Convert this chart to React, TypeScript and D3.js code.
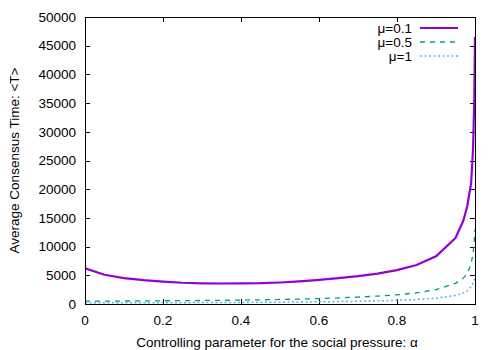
import React, { useRef, useEffect } from "react";
import * as d3 from "d3";

// alpha samples (social pressure parameter)
const alphas = [
  0, 0.05, 0.1, 0.15, 0.2, 0.25, 0.3, 0.35, 0.4, 0.45, 0.5, 0.55, 0.6, 0.65,
  0.7, 0.75, 0.8, 0.85, 0.9, 0.95, 0.97, 0.98, 0.99, 0.995, 0.998, 1,
];

// average consensus time <T> for each mu
const mu01 = [
  6200, 5100, 4500, 4150, 3900, 3700, 3600, 3570, 3580, 3620, 3750, 3950, 4200,
  4500, 4850, 5300, 5900, 6800, 8300, 11500, 14500, 17000, 21000, 27000, 35000,
  46500,
];
const mu05 = [
  500, 510, 520, 540, 560, 580, 610, 640, 680, 730, 790, 860, 950, 1050, 1200,
  1380, 1600, 1950, 2500, 3600, 4500, 5300, 7000, 8800, 10800, 13000,
];
const mu1 = [
  200, 205, 210, 215, 225, 235, 245, 260, 275, 295, 320, 345, 380, 420, 470,
  540, 640, 780, 1000, 1500, 1900, 2300, 3000, 3600, 4100, 4800,
];

const seriesLabels = ["\u03bc=0.1", "\u03bc=0.5", "\u03bc=1"];
const xTicks = [0, 0.2, 0.4, 0.6, 0.8, 1];
const yTicks = [0, 5000, 10000, 15000, 20000, 25000, 30000, 35000, 40000, 45000, 50000];

const App = () => {
  const ref = useRef<SVGSVGElement>(null);

  useEffect(() => {
    const width = 500;
    const height = 350;
    const left = 85;
    const right = 475;
    const top = 17;
    const bottom = 304;
    const font = "'Liberation Sans', Arial, sans-serif";
    const fontSize = 13.5;

    const svg = d3.select(ref.current);
    svg.selectAll("*").remove();
    svg.attr("width", width).attr("height", height);

    const x = d3.scaleLinear().domain([0, 1]).range([left, right]);
    const y = d3.scaleLinear().domain([0, 50000]).range([bottom, top]);

    svg
      .append("defs")
      .append("clipPath")
      .attr("id", "plot-clip")
      .append("rect")
      .attr("x", left)
      .attr("y", top)
      .attr("width", right - left)
      .attr("height", bottom - top);

    // ticks, inward and mirrored like gnuplot
    const tickLen = 5;
    const ticks = svg.append("g").attr("stroke", "#000").attr("stroke-width", 1);
    yTicks.forEach((t) => {
      const yy = Math.round(y(t)) + 0.5;
      ticks.append("line").attr("x1", left).attr("x2", left + tickLen).attr("y1", yy).attr("y2", yy);
      ticks.append("line").attr("x1", right).attr("x2", right - tickLen).attr("y1", yy).attr("y2", yy);
    });
    xTicks.forEach((t) => {
      const xx = Math.round(x(t)) + 0.5;
      ticks.append("line").attr("x1", xx).attr("x2", xx).attr("y1", bottom).attr("y2", bottom - tickLen);
      ticks.append("line").attr("x1", xx).attr("x2", xx).attr("y1", top).attr("y2", top + tickLen);
    });

    // tick labels
    svg
      .append("g")
      .selectAll("text")
      .data(yTicks)
      .join("text")
      .attr("x", left - 9)
      .attr("y", (d) => y(d))
      .attr("dy", "0.35em")
      .attr("text-anchor", "end")
      .style("font-family", font)
      .style("font-size", fontSize + "px")
      .text((d) => d);

    svg
      .append("g")
      .selectAll("text")
      .data(xTicks)
      .join("text")
      .attr("x", (d) => x(d))
      .attr("y", bottom + 16)
      .attr("dy", "0.35em")
      .attr("text-anchor", "middle")
      .style("font-family", font)
      .style("font-size", fontSize + "px")
      .text((d) => d);

    // axis titles
    svg
      .append("text")
      .attr("x", (left + right) / 2 - 3)
      .attr("y", 342)
      .attr("dy", "0.35em")
      .attr("text-anchor", "middle")
      .style("font-family", font)
      .style("font-size", fontSize + "px")
      .text("Controlling parameter for the social pressure:  \u03b1");

    svg
      .append("text")
      .attr("transform", `translate(14, ${(top + bottom) / 2}) rotate(-90)`)
      .attr("dy", "0.35em")
      .attr("text-anchor", "middle")
      .style("font-family", font)
      .style("font-size", fontSize + "px")
      .text("Average Consensus Time: <T>");

    // curves
    const series = [
      { values: mu01, color: "#9400d3", width: 2.2, dash: null },
      { values: mu05, color: "#009e73", width: 1.3, dash: "5,5" },
      { values: mu1, color: "#56b4e9", width: 1.5, dash: "2,2.5" },
    ];

    const line = d3
      .line<number>()
      .x((d, i) => x(alphas[i]))
      .y((d) => y(d));

    const plot = svg.append("g").attr("clip-path", "url(#plot-clip)");
    series.forEach((s) => {
      plot
        .append("path")
        .attr("d", line(s.values))
        .attr("fill", "none")
        .attr("stroke", s.color)
        .attr("stroke-width", s.width)
        .attr("stroke-dasharray", s.dash)
        .attr("stroke-linejoin", "round");
    });

    // border
    svg
      .append("rect")
      .attr("x", left + 0.5)
      .attr("y", top + 0.5)
      .attr("width", right - left)
      .attr("height", bottom - top)
      .attr("fill", "none")
      .attr("stroke", "#000")
      .attr("stroke-width", 1);

    // legend
    const legend = svg.append("g");
    series.forEach((s, i) => {
      const ly = 28 + i * 14;
      legend
        .append("text")
        .attr("x", 412)
        .attr("y", ly)
        .attr("dy", "0.35em")
        .attr("text-anchor", "end")
        .style("font-family", font)
        .style("font-size", fontSize + "px")
        .text(seriesLabels[i]);
      legend
        .append("line")
        .attr("x1", 420)
        .attr("x2", 458)
        .attr("y1", ly)
        .attr("y2", ly)
        .attr("stroke", s.color)
        .attr("stroke-width", s.width)
        .attr("stroke-dasharray", s.dash);
    });
  }, []);

  return (
    <div>
      <svg ref={ref} style={{ position: "absolute", left: 0, top: 0 }}></svg>
    </div>
  );
};

export default App;
